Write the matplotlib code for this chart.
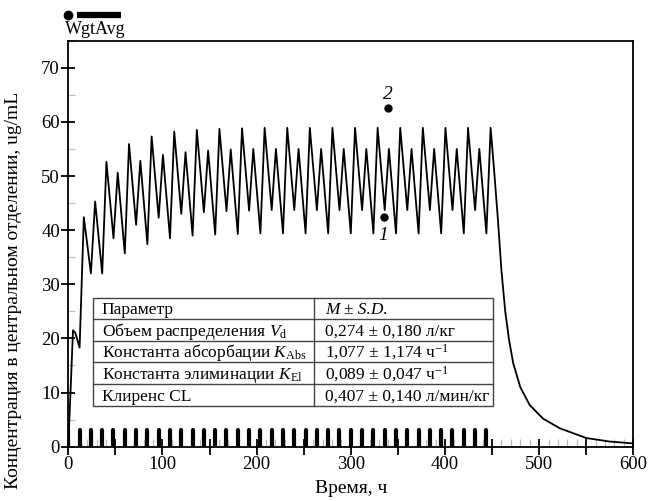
import matplotlib
matplotlib.use("Agg")
import matplotlib.pyplot as plt
from matplotlib.ticker import MultipleLocator, FuncFormatter
from matplotlib.patches import Rectangle

plt.rcParams['font.family'] = ['Liberation Serif', 'DejaVu Serif']
plt.rcParams['mathtext.fontset'] = 'custom'
plt.rcParams['mathtext.rm'] = 'Liberation Serif'
plt.rcParams['mathtext.it'] = 'Liberation Serif:italic'
plt.rcParams['mathtext.bf'] = 'Liberation Serif:bold'

# ---------------- data ----------------
time_h = [0, 5, 7.5, 12, 16.5, 24, 28.5, 36, 40.5, 48, 52.5, 60, 64.5, 72, 76.5,
          84, 88.5, 96, 100.5, 108, 112.5, 120, 124.5, 132, 136.5, 144, 148.5,
          156, 160.5, 168, 172.5, 180, 184.5, 192, 196.5, 204, 208.5, 216, 220.5,
          228, 232.5, 240, 244.5, 252, 256.5, 264, 268.5, 276, 280.5, 288, 292.5,
          300, 304.5, 312, 316.5, 324, 328.5, 336, 340.5, 348, 352.5, 360, 364.5,
          372, 376.5, 384, 388.5, 396, 400.5, 408, 412.5, 420, 424.5, 432, 436.5,
          444, 448.5,
          452, 456, 460, 464, 468, 472.5, 480, 490, 504, 522, 550, 575, 600]
conc = [0, 21.5, 21.0, 18.3, 42.4, 32.0, 45.3, 32.0, 52.6, 38.5, 50.6, 35.7, 55.9, 41.0, 52.8,
        37.4, 57.3, 42.3, 53.9, 38.5, 58.2, 43.0, 54.4, 39.0, 58.5, 43.3, 54.7,
        39.2, 58.7, 43.5, 54.9, 39.3, 58.8, 43.6, 55.0, 39.4, 58.9, 43.7, 55.0,
        39.4, 58.9, 43.7, 55.0, 39.4, 58.9, 43.7, 55.0, 39.4, 58.9, 43.7, 55.0,
        39.4, 58.9, 43.7, 55.0, 39.4, 58.9, 43.7, 55.0, 39.4, 58.9, 43.7, 55.0,
        39.4, 58.9, 43.7, 55.0, 39.4, 58.9, 43.7, 55.0, 39.4, 58.9, 43.7, 55.0,
        39.4, 58.9,
        51.5, 42.5, 32.5, 25.0, 19.8, 15.4, 11.0, 7.7, 5.2, 3.4, 1.6, 0.95, 0.6]

dose_times = [0, 12, 24, 36, 48, 60, 72, 84, 96, 108, 120, 132, 144, 156, 168, 180,
              192, 204, 216, 228, 240, 252, 264, 276, 288, 300, 312, 324, 336, 348,
              360, 372, 384, 396, 408, 420, 432, 444]
dose_bar_height = 3.1

point_labels = ['1', '2']
point_t = [335.6, 339.2]
point_c = [42.5, 62.5]

table_rows = [
    ("Параметр", "M ± S.D."),
    ("Объем распределения $V_{\\mathrm{d}}$", "0,274 ± 0,180 л/кг"),
    ("Константа абсорбации $K_{\\mathrm{Abs}}$", "1,077 ± 1,174 ч$^{-1}$"),
    ("Константа элиминации $K_{\\mathrm{El}}$", "0,089 ± 0,047 ч$^{-1}$"),
    ("Клиренс CL", "0,407 ± 0,140 л/мин/кг"),
]

x_label = "Время, ч"
y_label = "Концентрация в центральном отделении, ug/mL"
legend_label = "WgtAvg"

# ---------------- figure ----------------
fig = plt.figure(figsize=(6.51, 5.01), dpi=100)
ax = fig.add_axes([0.1049, 0.1084, 0.8679, 0.8104])

ax.plot(time_h, conc, color='black', lw=1.3, zorder=3)
vl = ax.vlines(dose_times, 0, dose_bar_height, color='black', lw=3.0, zorder=2)
vl.set_capstyle('round')

ax.plot(point_t, point_c, 'o', color='black', ms=5, zorder=4)
ax.text(point_t[0] - 1, point_c[0] - 3.4, point_labels[0], style='italic',
        fontsize=14, ha='center', va='center')
ax.text(point_t[1], point_c[1] + 2.5, point_labels[1], style='italic',
        fontsize=14, ha='center', va='center')

ax.set_xlim(0, 600)
ax.set_ylim(0, 75)

ax.xaxis.set_major_locator(MultipleLocator(50))
ax.xaxis.set_minor_locator(MultipleLocator(10))
ax.xaxis.set_major_formatter(FuncFormatter(lambda v, p: f"{int(v)}" if int(round(v)) % 100 == 0 else ""))
ax.yaxis.set_major_locator(MultipleLocator(10))
ax.yaxis.set_minor_locator(MultipleLocator(5))

ax.tick_params(axis='x', which='major', direction='inout', length=12, width=1.3,
               labelsize=13.5, pad=1)
ax.tick_params(axis='x', which='minor', direction='in', length=6, width=0.9,
               color='#bbbbbb')
ax.tick_params(axis='y', which='major', direction='inout', length=10, width=1.3,
               labelsize=13.5, pad=1)
ax.tick_params(axis='y', which='minor', direction='in', length=5, width=0.9,
               color='#bbbbbb')
ax.tick_params(top=False, right=False)
for s in ax.spines.values():
    s.set_linewidth(1.3)

ax.set_xlabel(x_label, fontsize=14, labelpad=5)
ax.set_ylabel(y_label, fontsize=14)
ax.yaxis.set_label_coords(-0.082, 0.385)

# legend-like marker at top-left
ax.plot([0], [1.063], 'o', color='black', ms=6, transform=ax.transAxes, clip_on=False)
ax.plot([0.0159, 0.0927], [1.063, 1.063], '-', color='black', lw=4.5,
        solid_capstyle='butt', transform=ax.transAxes, clip_on=False)
ax.text(-0.006, 1.028, legend_label, fontsize=13, ha='left', va='center',
        transform=ax.transAxes)

# table
tl, tr, tdiv = 0.0442, 0.7511, 0.4354
ttop, tbot = 0.367, 0.101
nrows = len(table_rows)
rh = (ttop - tbot) / nrows
ax.add_patch(Rectangle((tl, tbot), tr - tl, ttop - tbot, transform=ax.transAxes,
                       facecolor='white', edgecolor='#444444', lw=1.0, zorder=5))
ax.plot([tdiv, tdiv], [tbot, ttop], color='#444444', lw=1.0, transform=ax.transAxes, zorder=6)
for i in range(1, nrows):
    yy = ttop - i * rh
    ax.plot([tl, tr], [yy, yy], color='#444444', lw=1.0, transform=ax.transAxes, zorder=6)
for i, (left_txt, right_txt) in enumerate(table_rows):
    yc = ttop - (i + 0.5) * rh
    ax.text(tl + 0.015, yc - 0.014, left_txt, fontsize=12.5, ha='left', va='baseline',
            transform=ax.transAxes, zorder=7)
    ax.text(tdiv + 0.019, yc - 0.014, right_txt, fontsize=12.5, ha='left', va='baseline',
            transform=ax.transAxes, zorder=7, style='italic' if i == 0 else 'normal')

fig.savefig("out.png", dpi=100)
